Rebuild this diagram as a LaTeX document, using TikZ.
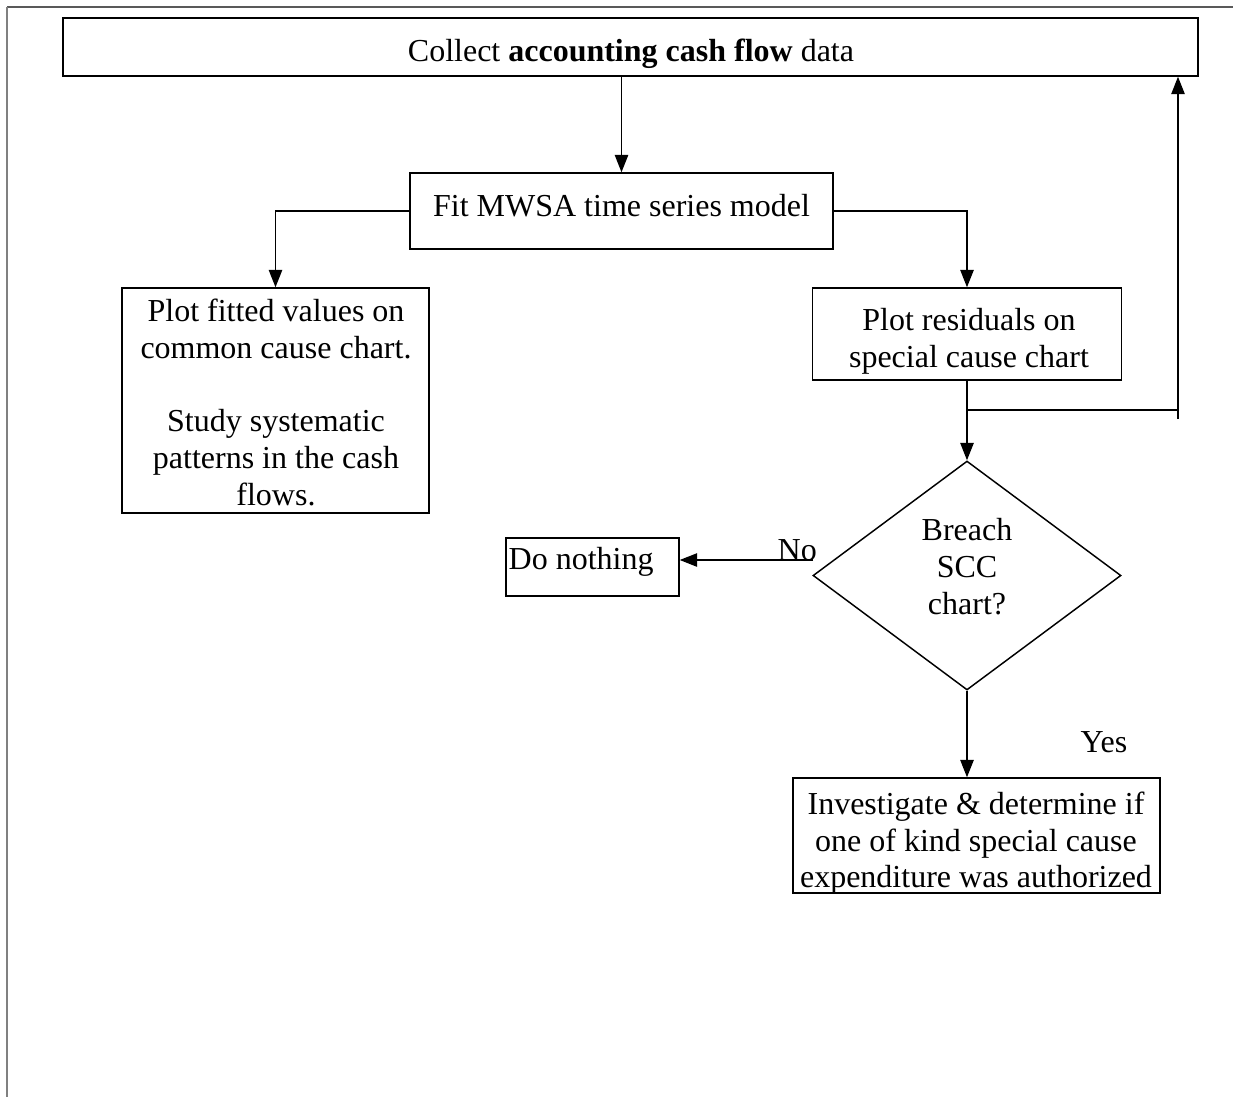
\documentclass[tikz,border=0pt]{standalone}
\usepackage{fontspec}
\setmainfont{Liberation Serif}
\usetikzlibrary{positioning}
\usetikzlibrary{shapes.geometric}
\usetikzlibrary{arrows.meta}
\usetikzlibrary{math}
\newcommand{\pxunit}{0.375pt}
\tikzset{box/.style 2 args={draw, inner sep=0pt, minimum width=#1*\pxunit, minimum height=#2*\pxunit},
	decision/.style 2 args={diamond, draw, inner sep=0pt, minimum width=#1*\pxunit, minimum height=#2*\pxunit},
	txt/.style={inner sep=0pt, align=center, font=\fontsize{12}{13.8}\selectfont, execute at begin node=\strut},
	arr/.style={-{Triangle[length=6.5pt,width=5pt]}}}

\begin{document}
\begin{tikzpicture}[x=\pxunit,y=-\pxunit,line width=0.55pt]
	\tikzmath{\mx=967; \lx=1178; \ny=560; \by=410;}
	\useasboundingbox (0,0) rectangle (1233,1097);
	\draw[gray!70!black, line width=0.4pt] (7,7) -- (1233,7);
	\draw[gray, line width=0.8pt] (7,7) -- (7,1097);
	% boxes
	\node[box={1135}{58}] (collect) at (630.5,47) {};
	\node[box={423}{76}] (fit) at (621.5,211) {};
	\node[box={307}{225}] (fitted) at (275.5,400.5) {};
	\node[box={309}{92}] (resid) at (\mx,334) {};
	\node[decision={308}{229}] (breach) at (\mx,575.5) {};
	\node[box={173}{58}] (nothing) at (592.5,567) {};
	\node[box={367}{115}] (invest) at (976.5,835.5) {};
	% texts
	\node[txt, anchor=north] (collecttxt) at (631,35) {Collect \textbf{accounting cash flow} data};
	\node[txt, anchor=north] (fittxt) at (621.5,190) {Fit MWSA time series model};
	\node[txt, anchor=north] (fittedtxt) at (276,298) {Plot fitted values on\\common cause chart.\\[13.8pt]Study systematic\\patterns in the cash\\flows.};
	\node[txt, anchor=north] (residtxt) at (969,308) {Plot residuals on\\special cause chart};
	\node[txt, anchor=north] (breachtxt) at (\mx,518) {Breach\\SCC\\chart?};
	\node[txt, anchor=north west] (nothingtxt) at (508,543) {Do nothing};
	\node[txt, anchor=north] (investtxt) at (976,791) {Investigate \& determine if\\one of kind special cause\\expenditure was authorized};
	\node[txt, anchor=base west] (notxt) at (777,560) {No};
	\node[txt, anchor=base west] (yestxt) at (1080,752) {Yes};
	% connectors
	\coordinate (branch) at (\mx,\by);
	\coordinate (loop) at (\lx,\by+9);
	\coordinate (nostart) at (813,\ny);
	\draw[arr] (collect.south -| fit.north) -- (fit.north);
	\draw[arr] (fit.west) -| (fitted.north);
	\draw[arr] (fit.east) -| (resid.north);
	\draw[arr] (resid.south) -- (breach.north);
	\draw (branch) -- (branch -| loop);
	\draw[arr] (loop) -- (loop |- collect.south);
	\draw[arr] (nostart) -- (nostart -| nothing.east);
	\draw[arr] (breach.south) -- (breach.south |- invest.north);
\end{tikzpicture}
\end{document}
